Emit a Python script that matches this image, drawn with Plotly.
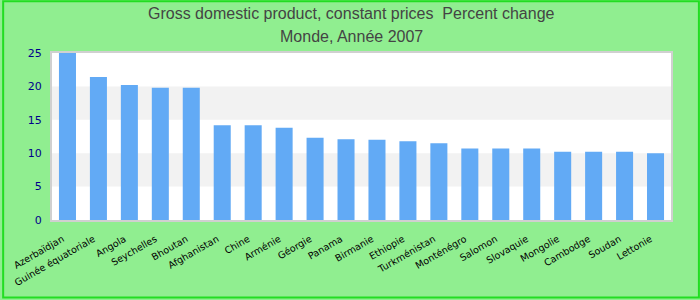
import plotly.graph_objects as go

countries = ["Azerbaïdjan", "Guinée équatoriale", "Angola", "Seychelles", "Bhoutan",
             "Afghanistan", "Chine", "Arménie", "Géorgie", "Panama", "Birmanie",
             "Ethiopie", "Turkménistan", "Monténégro", "Salomon", "Slovaquie",
             "Mongolie", "Cambodge", "Soudan", "Lettonie"]
growth = [25.0, 21.4, 20.2, 19.8, 19.8, 14.2, 14.2, 13.8, 12.3, 12.1, 12.0,
          11.8, 11.5, 10.7, 10.7, 10.7, 10.2, 10.2, 10.2, 10.0]
y_ticks = [0, 5, 10, 15, 20, 25]
bands = [(5, 10), (15, 20)]
title_lines = ["Gross domestic product, constant prices  Percent change", "Monde, Année 2007"]

W, H = 700, 300
ml, mr, mt, mb = 50, 29, 53, 79
pw, ph = W - ml - mr, H - mt - mb

fig = go.Figure(go.Bar(x=countries, y=growth, marker_color="#62aaf5",
                       marker_line_width=0))

shapes = []
for y0, y1 in bands:
    shapes.append(dict(type="rect", xref="paper", yref="y", x0=0, x1=1, y0=y0, y1=y1,
                       fillcolor="#f2f2f2", line_width=0, layer="below"))
# outer border of the whole figure
shapes.append(dict(type="rect", xref="paper", yref="paper",
                   x0=(-ml + 1) / pw, x1=(pw + mr - 1) / pw,
                   y0=(-mb + 1) / ph, y1=(ph + mt - 1) / ph,
                   line=dict(color="#22dd22", width=2), fillcolor="rgba(0,0,0,0)"))

annotations = []
for txt, ypx in zip(title_lines, [13, 36]):
    annotations.append(dict(text=txt, xref="paper", yref="paper",
                            x=(W / 2 - ml) / pw, y=(H - mb - ypx) / ph,
                            xanchor="center", yanchor="middle", showarrow=False,
                            font=dict(family="Liberation Sans, Arial", size=16, color="#444444")))

fig.update_layout(
    width=W, height=H,
    margin=dict(l=ml, r=mr, t=mt, b=mb),
    paper_bgcolor="#90ee90",
    plot_bgcolor="white",
    bargap=0.45,
    showlegend=False,
    shapes=shapes,
    annotations=annotations,
    xaxis=dict(tickangle=-30, tickfont=dict(family="DejaVu Sans", size=9.5, color="black"),
               showline=True, linecolor="#d0d0d0", linewidth=2, mirror=True,
               showgrid=False, ticks="", ticklabelstandoff=8, ticklabelshift=-5),
    yaxis=dict(range=[0, 25], tickvals=y_ticks, showgrid=False, zeroline=False,
               tickfont=dict(family="DejaVu Sans", size=11, color="#00008b"),
               showline=True, linecolor="#d0d0d0", linewidth=2, mirror=True,
               ticks="", ticklen=0, ticklabelstandoff=6),
)

fig.write_html("out.html")
